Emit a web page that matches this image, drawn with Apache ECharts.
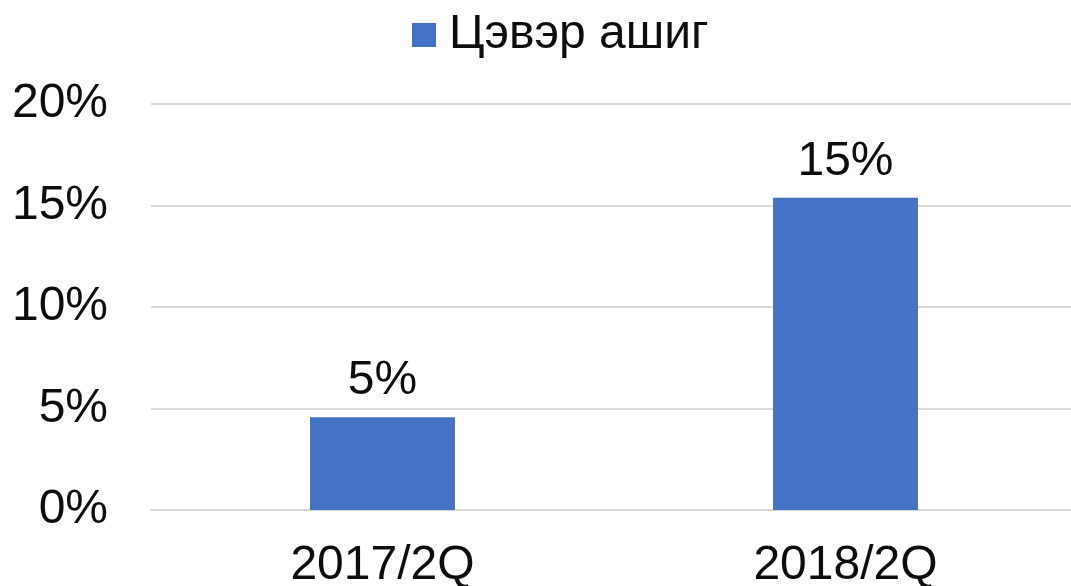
<!DOCTYPE html>
<html>
<head>
<meta charset="utf-8">
<script src="https://cdn.jsdelivr.net/npm/echarts@6/dist/echarts.min.js"></script>
<style>
  html, body { margin: 0; padding: 0; background: #fff; }
  #chart { width: 1071px; height: 586px; }
</style>
</head>
<body>
<div id="chart"></div>
<script>
const categories = ['2017/2Q', '2018/2Q']
const seriesName = 'Цэвэр ашиг'
const profit = [4.57, 15.38]

const font = '"Liberation Sans", Arial, sans-serif'
const chart = echarts.init(document.getElementById('chart'))
chart.setOption({
  animation: false,
  textStyle: { fontFamily: font },
  legend: {
    data: [seriesName],
    left: 407,
    top: 6,
    itemWidth: 24,
    itemHeight: 24,
    icon: 'rect',
    textStyle: { fontSize: 48, color: '#0d0d0d', fontFamily: font, padding: [0, 0, 0, 8] }
  },
  // plot area runs a little past the right edge, as in the original
  grid: {
    left: 151,
    width: 926,
    top: 104,
    height: 406,
    containLabel: false,
    outerBoundsMode: 'none'
  },
  xAxis: {
    type: 'category',
    data: categories,
    axisTick: { show: false },
    axisLine: { lineStyle: { color: '#d9d9d9', width: 2 } },
    axisLabel: { fontSize: 48, color: '#0d0d0d', margin: 32, fontFamily: font }
  },
  yAxis: {
    type: 'value',
    min: 0,
    max: 20,
    interval: 5,
    axisLine: { show: false },
    axisTick: { show: false },
    splitLine: { lineStyle: { color: '#d9d9d9', width: 2 } },
    axisLabel: {
      fontSize: 48,
      color: '#0d0d0d',
      margin: 43,
      fontFamily: font,
      formatter: '{value}%'
    }
  },
  series: [
    {
      name: seriesName,
      type: 'bar',
      data: profit,
      barWidth: '31.3%',
      itemStyle: { color: '#4472C4' },
      label: {
        show: true,
        position: 'top',
        distance: 12,
        fontSize: 48,
        color: '#0d0d0d',
        fontFamily: font,
        formatter: p => Math.round(p.value) + '%'
      }
    }
  ]
})
</script>
</body>
</html>
